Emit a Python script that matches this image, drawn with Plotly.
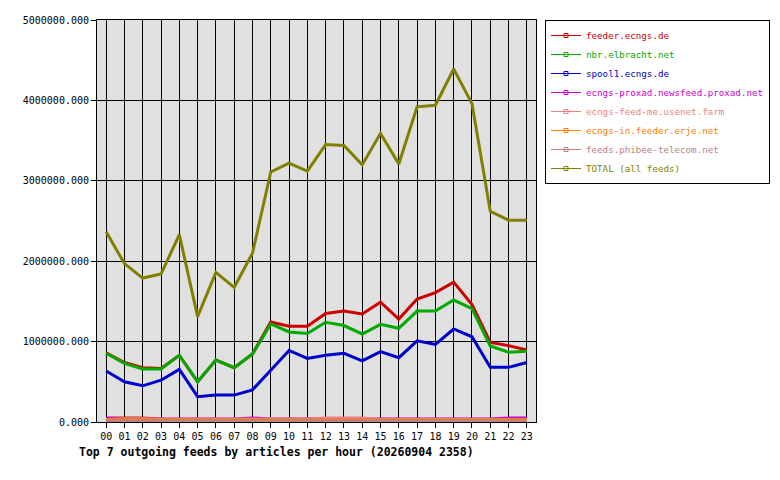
import plotly.graph_objects as go

hours = ["%02d" % h for h in range(24)]

feeder_ecngs = [860000, 740000, 675000, 665000, 830000, 500000, 770000, 675000, 845000, 1244000,
                1190000, 1190000, 1350000, 1380000, 1343000, 1490000, 1280000, 1530000, 1610000, 1740000,
                1460000, 990000, 950000, 895000]
nbr_elbracht = [855000, 730000, 660000, 660000, 830000, 500000, 770000, 675000, 845000, 1220000,
                1120000, 1100000, 1240000, 1200000, 1095000, 1215000, 1165000, 1380000, 1380000, 1517000,
                1410000, 945000, 867000, 880000]
spool1_ecngs = [634000, 500000, 450000, 520000, 655000, 315000, 335000, 335000, 400000, 640000,
                890000, 790000, 830000, 855000, 760000, 875000, 800000, 1010000, 965000, 1157000,
                1060000, 680000, 680000, 740000]
proxad = [50000, 50000, 50000, 38000, 38000, 38000, 38000, 38000, 50000, 38000,
          38000, 38000, 38000, 38000, 38000, 38000, 38000, 38000, 38000, 38000,
          38000, 38000, 50000, 50000]
feed_me = [30000, 30000, 30000, 30000, 38000, 30000, 38000, 30000, 30000, 38000,
           38000, 38000, 50000, 50000, 50000, 30000, 30000, 30000, 30000, 30000,
           30000, 30000, 30000, 30000]
erje = [30000, 43000, 43000, 30000, 30000, 30000, 30000, 30000, 30000, 30000,
        30000, 30000, 30000, 30000, 30000, 30000, 30000, 30000, 30000, 30000,
        30000, 30000, 30000, 30000]
phibee = [18000, 18000, 18000, 18000, 18000, 18000, 18000, 18000, 18000, 18000,
          18000, 18000, 18000, 18000, 18000, 18000, 18000, 18000, 18000, 18000,
          18000, 18000, 18000, 18000]
total = [2367000, 1970000, 1790000, 1840000, 2330000, 1310000, 1860000, 1675000, 2100000, 3110000,
         3220000, 3120000, 3450000, 3440000, 3200000, 3590000, 3210000, 3920000, 3940000, 4390000,
         3960000, 2620000, 2510000, 2510000]

series = [
    ("feeder.ecngs.de", feeder_ecngs, "#cc0000"),
    ("nbr.elbracht.net", nbr_elbracht, "#00aa00"),
    ("spool1.ecngs.de", spool1_ecngs, "#0000cc"),
    ("ecngs-proxad.newsfeed.proxad.net", proxad, "#cc00cc"),
    ("ecngs-feed-me.usenet.farm", feed_me, "#f08080"),
    ("ecngs-in.feeder.erje.net", erje, "#ff8000"),
    ("feeds.phibee-telecom.net", phibee, "#c08080"),
    ("TOTAL (all feeds)", total, "#808000"),
]

fig = go.Figure()
for nom, valores, cor in series:
    # linha grossa no grafico, sem legenda
    fig.add_trace(go.Scatter(x=hours, y=valores, mode="lines", showlegend=False,
                             line=dict(color=cor, width=3), hoverinfo="skip"))
for nom, valores, cor in series:
    # entrada fina so para a legenda
    fig.add_trace(go.Scatter(x=[None], y=[None], mode="lines+markers",
                             name='<span style="color:%s">%s</span>' % (cor, nom),
                             line=dict(color=cor, width=1),
                             marker=dict(symbol="square-open", size=4, color=cor)))

# a pagina tem 8px de margem no body, por isso a figura fica menor
fig.update_layout(
    width=772, height=472,
    margin=dict(l=89, r=244, t=12, b=58, autoexpand=False),
    paper_bgcolor="white",
    plot_bgcolor="#e0e0e0",
    font=dict(family="DejaVu Sans Mono", size=10, color="black"),
    legend=dict(xref="container", yref="container", x=0.6956, y=1 - 12 / 472,
                xanchor="left", yanchor="top",
                bordercolor="black", borderwidth=1, bgcolor="white",
                tracegroupgap=0, itemwidth=30, font=dict(size=9.2)),
    annotations=[dict(text="<b>Top 7 outgoing feeds by articles per hour (20260904 2358)</b>",
                      xref="paper", yref="paper", x=0.41, y=-0.075,
                      xanchor="center", yanchor="middle", showarrow=False,
                      font=dict(size=11.5, family="DejaVu Sans Mono"))],
)
fig.update_xaxes(type="category", range=[-0.5, 23.5], showgrid=True, gridcolor="black", gridwidth=1,
                 showline=True, linecolor="black", linewidth=1, mirror=True, automargin=False,
                 ticks="outside", ticklen=5, tickcolor="black", zeroline=False)
fig.update_yaxes(range=[0, 5000000], dtick=1000000, tickformat=".3f", automargin=False,
                 showgrid=True, gridcolor="black", gridwidth=1,
                 showline=True, linecolor="black", linewidth=1, mirror=True,
                 ticks="outside", ticklen=5, tickcolor="black", zeroline=False)

fig.write_html("out.html")
